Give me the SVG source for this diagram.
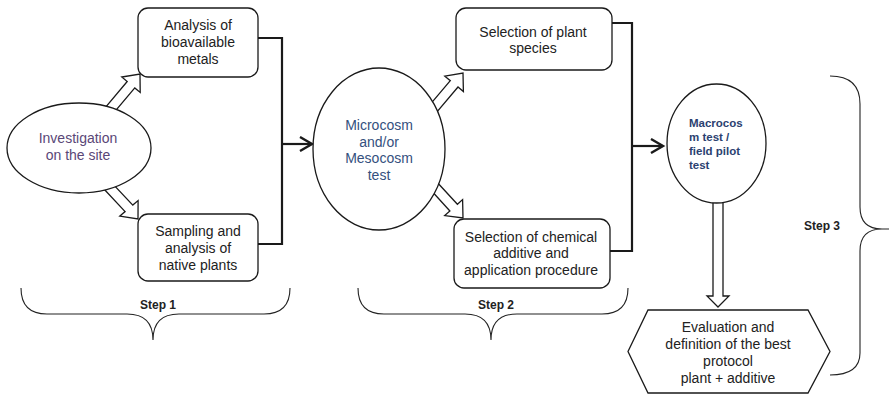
<svg xmlns="http://www.w3.org/2000/svg" width="889" height="394" viewBox="0 0 889 394">
<style>
.box{fill:#fff;stroke:#1a1a1a;stroke-width:1.3}
.blk{fill:#fff;stroke:#1a1a1a;stroke-width:1.3;stroke-linejoin:miter}
.con{fill:none;stroke:#1a1a1a;stroke-width:2.2}
.brace{fill:none;stroke:#222;stroke-width:1.1}
text{font-family:"Liberation Sans",Arial,sans-serif;font-size:14px;fill:#222;text-anchor:middle}
.purple{fill:#5a4777}
.blue{fill:#34507e}
.mac{font-size:11.5px;font-weight:bold;fill:#2b4170;text-anchor:start}
.step{font-size:12px;font-weight:bold}
</style>
<defs>
<marker id="open" markerWidth="16" markerHeight="16" refX="13" refY="8" orient="auto" markerUnits="userSpaceOnUse">
<path d="M1,1 L13,8 L1,15" fill="none" stroke="#1a1a1a" stroke-width="2.4"/>
</marker>
</defs>
<g id="connectors">
<path class="con" d="M258,38 H282 V244 H258"/>
<path class="con" d="M282,144 H312" marker-end="url(#open)"/>
<path class="con" d="M612,23 H632 V251 H610"/>
<path class="con" d="M632,146 H663" marker-end="url(#open)"/>
<polygon class="blk" points="104.2,108.8 127.2,81.5 121.8,77.0 140,74 140.2,92.4 134.8,87.9 111.8,115.2"/>
<polygon class="blk" points="104.2,189.2 125.1,211.6 119.8,216.1 138,219 138.1,200.6 132.8,205.1 111.8,182.8"/>
<polygon class="blk" points="428.1,106.8 450.3,80.7 444.8,76.2 463,73 463.4,91.5 458.0,87.0 435.9,113.2"/>
<polygon class="blk" points="428.3,187.3 449.9,211.0 444.7,215.6 463,218 462.6,199.6 457.4,204.3 435.7,180.7"/>
<polygon class="blk" points="713,198 723,198 723,296 729,296 718,307 707,296 713,296"/>
</g>
<g id="investigation">
<ellipse class="box" cx="79" cy="148" rx="72" ry="45"/>
<text class="purple" x="78" y="143">Investigation</text>
<text class="purple" x="78" y="160">on the site</text>
</g>
<g id="analysis">
<rect class="box" x="138" y="8" width="120" height="69" rx="10"/>
<text x="198" y="30">Analysis of</text>
<text x="198" y="47">bioavailable</text>
<text x="198" y="64">metals</text>
</g>
<g id="sampling">
<rect class="box" x="138" y="214" width="120" height="67" rx="10"/>
<text x="198" y="236">Sampling and</text>
<text x="198" y="253">analysis of</text>
<text x="198" y="270">native plants</text>
</g>
<g id="step1">
<path class="brace" d="M21,288 Q21,314 47,314 H127 Q153,314 153,340 Q153,314 179,314 H264 Q290,314 290,288"/>
<text class="step" x="158" y="309">Step 1</text>
</g>
<g id="microcosm">
<ellipse class="box" cx="379" cy="149" rx="66" ry="81"/>
<text class="blue" x="379" y="130">Microcosm</text>
<text class="blue" x="379" y="147">and/or</text>
<text class="blue" x="379" y="163">Mesocosm</text>
<text class="blue" x="379" y="180">test</text>
</g>
<g id="species">
<rect class="box" x="456" y="8" width="156" height="62" rx="10"/>
<text x="533" y="37">Selection of plant</text>
<text x="533" y="53">species</text>
</g>
<g id="chemical">
<rect class="box" x="454" y="219" width="156" height="69" rx="10"/>
<text x="531" y="242">Selection of chemical</text>
<text x="531" y="258">additive and</text>
<text x="531" y="275">application procedure</text>
</g>
<g id="step2">
<path class="brace" d="M358,288 Q358,314 384,314 H465 Q491,314 491,340 Q491,314 517,314 H602 Q628,314 628,288"/>
<text class="step" x="496" y="309">Step 2</text>
</g>
<g id="macrocosm">
<ellipse class="box" cx="716.5" cy="143.5" rx="49.5" ry="59.5"/>
<text class="mac" x="689" y="127">Macrocos</text>
<text class="mac" x="689" y="141">m test /</text>
<text class="mac" x="689" y="155">field pilot</text>
<text class="mac" x="689" y="169">test</text>
</g>
<g id="evaluation">
<polygon class="box" points="648,310 808,310 830,351.5 808,393 648,393 628,351.5"/>
<text x="728" y="332">Evaluation and</text>
<text x="728" y="349">definition of the best</text>
<text x="728" y="366">protocol</text>
<text x="728" y="383">plant + additive</text>
</g>
<g id="step3">
<path class="brace" d="M830,76 Q860,76 860,104 V207 Q860,229 882,229 Q860,229 860,251 V353 Q860,375 830,375 M880,229 H889"/>
<text class="step" x="822" y="230">Step 3</text>
</g>
</svg>
